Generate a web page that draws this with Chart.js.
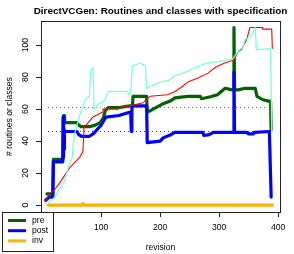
<!DOCTYPE html>
<html>
<head>
<meta charset="utf-8">
<script src="https://cdn.jsdelivr.net/npm/chart.js@4.4.1/dist/chart.umd.min.js"></script>
<style>
  html, body { margin: 0; padding: 0; background: #fff; }
  canvas { display: block; }
</style>
</head>
<body>
<canvas id="chart" width="294" height="254" style="width:294px;height:254px"></canvas>
<script>
// DirectVCGen: routines/classes carrying specifications, per revision.
// Values (approximate).

const TITLE   = "DirectVCGen: Routines and classes with specification";
const X_LABEL = "revision";
const Y_LABEL = "# routines or classes";
const X_TICKS = [0, 100, 200, 300, 400];
const Y_TICKS = [0, 20, 40, 60, 80, 100];

// routines with preconditions
const preRev = [8, 18, 19, 35, 36, 37, 38, 59, 62, 66, 80, 90, 98, 103, 107, 112, 132, 140, 149, 153, 154, 175, 177, 178, 188, 203, 217, 225, 247, 268, 270, 285, 297, 310, 322, 324, 325, 326, 332, 344, 361, 364, 373, 383, 387, 388];
const preVal = [7, 7, 28.5, 28.5, 56, 56, 51.5, 51.5, 50, 49, 49, 50, 51.5, 54, 59, 61, 61, 61.5, 62, 62, 68, 68, 68, 58, 60, 63, 65, 67, 68, 68, 66.5, 67.7, 69, 73, 72, 72, 111, 72, 72, 73, 73, 68, 66, 65, 65, 47];

// routines with postconditions
const postRev = [6, 12, 18, 19, 35, 35.5, 36, 36.5, 37, 37.5, 38, 59, 62, 66, 80, 88, 95, 100, 103, 108, 130, 148, 150, 151, 152, 155, 177, 178, 200, 205, 218, 225, 272, 274, 283, 290, 324, 325, 326, 347, 349, 358, 360, 385, 388];
const postVal = [3, 5, 5, 27, 27, 55, 30, 52, 35, 47, 46, 46, 44, 43, 43, 45, 48, 50, 52, 55, 56, 58, 58, 46, 61, 62, 62, 39, 40, 42, 44, 45.5, 45.5, 43.5, 44, 45.5, 45.5, 83, 45.5, 45.5, 44.5, 44.5, 45.5, 46, 5];

// classes with invariants
const invRev = [10, 67, 69, 71, 390];
const invVal = [0, 0, 1, 0, 0];

// thin red series
const redRev = [5, 13, 22, 30, 39, 47, 56, 64, 69, 71, 81, 86, 102, 103, 129, 132, 149, 171, 183, 212, 225, 237, 247, 264, 281, 293, 310, 324, 332, 339, 347, 352, 373, 374, 389, 390];
const redVal = [2, 7, 10, 14, 19, 23.5, 27, 30, 33.5, 48.5, 53, 55, 58, 60, 60, 61, 62, 64, 68, 69, 71, 74, 77, 79.5, 82.5, 86, 89, 90.5, 95.5, 98, 104, 111, 111, 110, 110, 98];

// thin aquamarine series
const aquaRev = [10, 14, 22, 27, 34, 39, 44, 51, 52.5, 56, 59, 64, 69, 73, 80, 82, 86, 88, 91, 95, 105, 112, 145, 146, 150, 153, 161, 165, 175, 177, 188, 200, 215, 225, 242, 259, 281, 298, 315, 322, 330, 339, 344, 352, 361, 363, 387, 389];
const aquaVal = [1, 2.5, 5, 8.7, 13, 16, 23.6, 30, 38, 46, 50, 56.5, 62, 66, 68, 84, 86, 60, 61, 63, 65, 71, 71, 69, 70, 87, 88, 89, 87, 73, 75, 77, 78, 81, 83, 86, 89, 89.5, 91, 91, 95, 97, 104, 104.5, 111, 97, 98, 46];

// mean levels (dotted)
const meanRev = [10, 383];
const preMean = [61, 61];
const postMean = [46, 46];

const pts = (xs, ys) => xs.map((x, i) => ({ x, y: ys[i] }));
const FONT = '"Liberation Sans", Arial, sans-serif';
const INK = "#222";

const LEGEND = [
  { label: "pre",  color: "#006400" },
  { label: "post", color: "#0000ff" },
  { label: "inv",  color: "#ffb000" },
];

const decor = {
  id: "decor",
  afterDraw(chart) {
    const { ctx, chartArea: a, scales } = chart;
    ctx.save();
    // plot box
    ctx.strokeStyle = INK;
    ctx.lineWidth = 1;
    ctx.strokeRect(Math.round(a.left) + 0.5, Math.round(a.top) + 0.5,
                   Math.round(a.right - a.left), Math.round(a.bottom - a.top));
    ctx.fillStyle = "#000";
    // title
    ctx.font = "bold 9.9px " + FONT;
    ctx.textAlign = "center";
    ctx.textBaseline = "middle";
    ctx.fillText(TITLE, (a.left + a.right) / 2, 11);
    // x axis title
    ctx.font = "8.6px " + FONT;
    ctx.fillText(X_LABEL, (a.left + a.right) / 2, 248);
    // y tick labels, rotated like R
    const y = scales.y;
    Y_TICKS.forEach(v => {
      ctx.save();
      ctx.translate(26, y.getPixelForValue(v));
      ctx.rotate(-Math.PI / 2);
      ctx.fillText(String(v), 0, 0);
      ctx.restore();
    });
    // y axis title
    ctx.save();
    ctx.translate(10, (a.top + a.bottom) / 2);
    ctx.rotate(-Math.PI / 2);
    ctx.fillText(Y_LABEL, 0, 0);
    ctx.restore();
    // legend box
    ctx.fillStyle = "#fff";
    ctx.fillRect(2.5, 212.5, 51, 39);
    ctx.strokeStyle = INK;
    ctx.strokeRect(2.5, 212.5, 51, 39);
    ctx.textAlign = "left";
    LEGEND.forEach((e, i) => {
      const ly = 220.5 + i * 10.2;
      ctx.strokeStyle = e.color;
      ctx.lineWidth = 3;
      ctx.beginPath();
      ctx.moveTo(8, ly);
      ctx.lineTo(26, ly);
      ctx.stroke();
      ctx.fillStyle = "#000";
      ctx.fillText(e.label, 32, ly);
    });
    ctx.restore();
  }
};

const line = (label, data, color, width, order, extra) => Object.assign({
  label, data, borderColor: color, backgroundColor: color,
  borderWidth: width, pointRadius: 0, tension: 0, fill: false,
  borderCapStyle: "round", borderJoinStyle: "round", order,
}, extra || {});

new Chart(document.getElementById("chart"), {
  type: "line",
  data: {
    datasets: [
      line("preMean",  pts(meanRev, preMean),  "#1fa01f", 1.2, 9, { borderDash: [1, 3], borderCapStyle: "butt" }),
      line("postMean", pts(meanRev, postMean), "#2020ff", 1.2, 9, { borderDash: [1, 3], borderCapStyle: "butt" }),
      line("pre",  pts(preRev, preVal),   "#006400", 3.2, 6),
      line("post", pts(postRev, postVal), "#0000ff", 3.2, 5),
      line("inv",  pts(invRev, invVal),   "#ffb000", 3.2, 4),
      line("red",  pts(redRev, redVal),   "#ff0000", 1.1, 2),
      line("aqua", pts(aquaRev, aquaVal), "#7fffd4", 1.3, 1),
    ]
  },
  options: {
    responsive: false,
    animation: false,
    devicePixelRatio: 1,
    layout: { padding: { top: 21, right: 14, left: 0, bottom: 0 } },
    plugins: { legend: { display: false }, tooltip: { enabled: false }, title: { display: false } },
    scales: {
      x: {
        type: "linear", min: -2, max: 403,
        afterBuildTicks: s => { s.ticks = X_TICKS.map(v => ({ value: v })); },
        afterFit: s => { s.height = 42; },
        grid: { drawOnChartArea: false, drawTicks: true, tickLength: 5, color: INK, tickColor: INK },
        border: { display: false },
        ticks: { color: "#000", font: { family: FONT, size: 8.6 }, padding: 5, maxRotation: 0, autoSkip: false },
      },
      y: {
        type: "linear", min: -4.36, max: 115.1,
        afterBuildTicks: s => { s.ticks = Y_TICKS.map(v => ({ value: v })); },
        afterFit: s => { s.width = 41; },
        grid: { drawOnChartArea: false, drawTicks: true, tickLength: 5, color: INK, tickColor: INK },
        border: { display: false },
        ticks: { display: false },
      }
    }
  },
  plugins: [decor]
});
</script>
</body>
</html>
